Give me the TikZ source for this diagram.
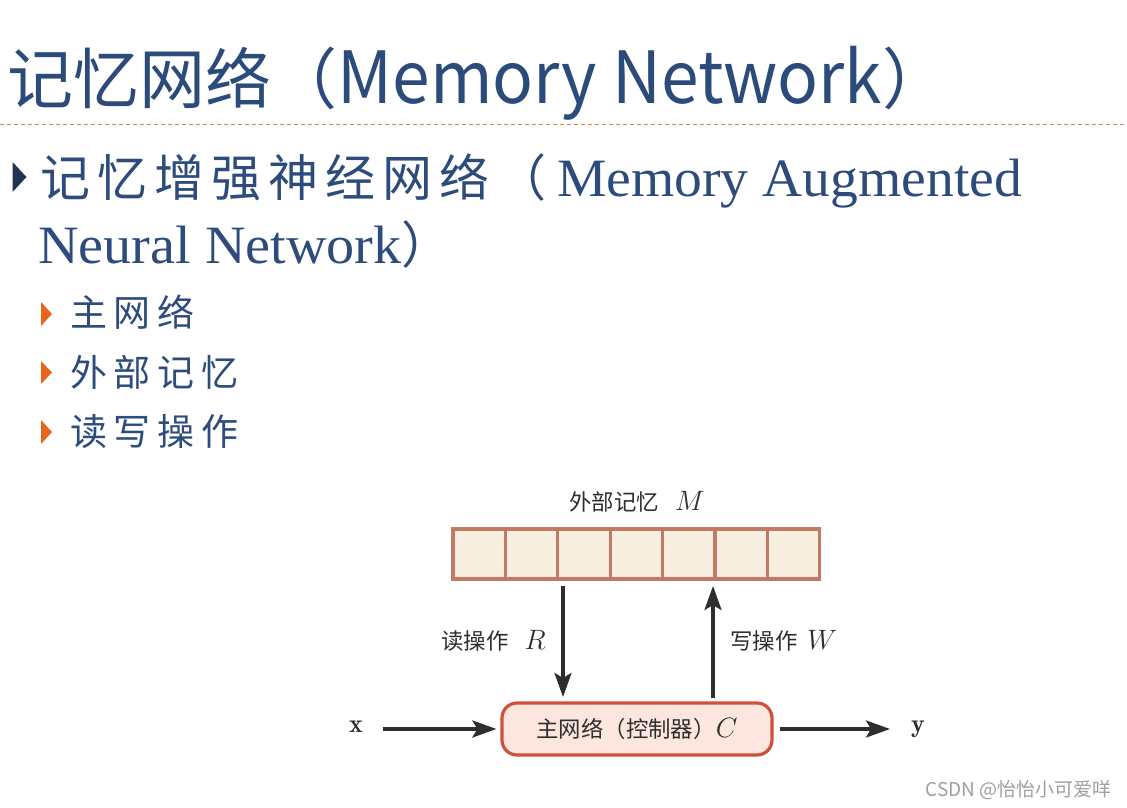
\documentclass[tikz,border=0pt]{standalone}
\usepackage{fix-cm}
\usepackage{fontspec}
\usepackage{amsmath}
\usetikzlibrary{arrows.meta}
\newfontfamily\cjk{Noto Sans CJK SC}
\newfontfamily\cjksp[LetterSpace=18]{Noto Sans CJK SC}
\newfontfamily\cjkspb[LetterSpace=14]{Noto Sans CJK SC}
\newfontfamily\serifl{Liberation Serif}
\newcommand\dmath[1]{{\fontsize{28}{30}\selectfont$#1$}}
\definecolor{titleblue}{HTML}{2B4B7B}
\definecolor{textblue}{HTML}{2D4C7C}
\definecolor{darktri}{HTML}{1F3352}
\definecolor{orangetri}{HTML}{E8651E}
\definecolor{dashorange}{HTML}{E0803E}
\definecolor{memfill}{HTML}{F6EFE0}
\definecolor{memdraw}{HTML}{C27A66}
\definecolor{ctrlfill}{HTML}{FCE6DD}
\definecolor{ctrldraw}{HTML}{CF503C}
\definecolor{arrowgray}{HTML}{2E2E2E}
\tikzset{
  cell/.style={draw=memdraw, fill=memfill, line width=3.2pt, minimum width=52.4pt, minimum height=50pt, inner sep=0pt, outer sep=0pt},
  ctrl/.style={draw=ctrldraw, fill=ctrlfill, line width=3.2pt, rounded corners=15pt, minimum width=270pt, minimum height=52pt, inner sep=0pt},
  flow/.style={draw=arrowgray, line width=3.4pt, -{Stealth[length=24pt,width=17pt,inset=5pt]}},
  dlabel/.style={text=arrowgray, font=\cjk\fontsize{22.4}{26}\selectfont, inner sep=0pt},
  subitem/.style={anchor=base west, text=textblue, font=\cjksp\fontsize{37}{40}\selectfont, inner sep=0pt},
  otri/.style={fill=orangetri},
  io/.style={text=arrowgray, font=\fontsize{26}{30}\selectfont, inner sep=0pt},
}
\begin{document}
\begin{tikzpicture}[x=1pt,y=-1pt]
\useasboundingbox[fill=white] (0,0) rectangle (1127,808);
% title
\node[anchor=base west, text=titleblue, font=\cjk\fontsize{66}{74}\selectfont, inner sep=0pt] (title) at (7,103) {记忆网络（};
\node[anchor=base west, text=titleblue, font=\cjk\fontsize{72}{80}\selectfont, inner sep=0pt] (title2) at (title.base east) {\scalebox{0.94}[1]{Memory Network}};
\node[anchor=base west, text=titleblue, font=\cjk\fontsize{66}{74}\selectfont, inner sep=0pt] (title3) at (title2.base east) {）};
\draw[dashorange, line width=1pt, dash pattern=on 4pt off 3pt] (0,124) -- (1127,124);
% main bullet
\fill[darktri] (12.5,162) -- (26.5,177) -- (12.5,192) -- cycle;
\node[anchor=base west, text=textblue, font=\cjkspb\fontsize{50}{56}\selectfont, inner sep=0pt] (b1a) at (40,196) {记忆增强神经网络（};
\node[anchor=base west, text=textblue, font=\serifl\fontsize{54}{60}\selectfont, inner sep=0pt] (b1b) at (557,196) {\scalebox{1.03}[1]{Memory Augmented}};
\node[anchor=base west, text=textblue, font=\serifl\fontsize{54}{60}\selectfont, inner sep=0pt] (b2a) at (38,263) {\scalebox{1.04}[1]{Neural Network}};
\node[anchor=base west, text=textblue, font=\cjk\fontsize{50}{56}\selectfont, inner sep=0pt] (b2b) at (b2a.base east) {）};
% sub bullets
\fill[otri] (41,302) -- (52,314) -- (41,326) -- cycle;
\node[subitem] (s1) at (70,326) {主网络};
\fill[otri] (41,361) -- (52,372.5) -- (41,384) -- cycle;
\node[subitem] (s2) at (70,386) {外部记忆};
\fill[otri] (41,420) -- (52,432) -- (41,444) -- cycle;
\node[subitem] (s3) at (70,445) {读写操作};
% diagram
\node[dlabel, anchor=base] (mlabel) at (637,510) {外部记忆\hspace{16pt}\dmath{M}};
\foreach \i in {0,...,6} {
  \node[cell, anchor=north west] (c\i) at ({453+52.4*\i},529) {};
}
\node[ctrl] (ctrl) at (637,729) {};
\node[dlabel, anchor=base] (ctrltext) at ([yshift=-8pt]ctrl.center) {主网络（控制器）\dmath{C}};
\coordinate (rtop) at (563,586);
\coordinate (rbot) at (563,697);
\coordinate (wbot) at (713,698);
\coordinate (wtop) at (713,586);
\draw[flow] (rtop) -- (rbot);
\draw[flow] (wbot) -- (wtop);
\node[dlabel, anchor=base east] (rlabel) at (546,649) {读操作\hspace{16pt}\dmath{R}};
\node[dlabel, anchor=base west] (wlabel) at (730,649) {写操作\hspace{10pt}\dmath{W}};
\node[io] (xin) at (356,727) {$\mathbf{x}$};
\node[io] (yout) at (918,729) {$\mathbf{y}$};
\coordinate (xs) at (383,729);
\coordinate (ye) at (890,729);
\draw[flow] (xs) -- ([xshift=-4pt]ctrl.west);
\draw[flow] ([xshift=6pt]ctrl.east) -- (ye);
% watermark
\node[anchor=base east, text=gray!75, font=\cjk\fontsize{19}{22}\selectfont, inner sep=0pt] (wm) at (1112,796) {CSDN @怡怡小可爱咩};
\end{tikzpicture}
\end{document}
